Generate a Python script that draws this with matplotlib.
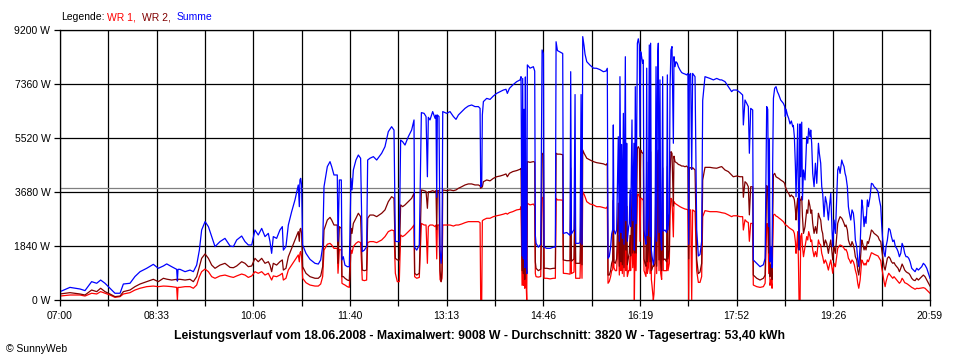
# SunnyWeb daily power curve, 18.06.2008
# WR 1, WR 2 and their sum over the day (07:00 - 20:59)

import numpy as np
import matplotlib
matplotlib.use("Agg")
import matplotlib.pyplot as plt

plt.rcParams['font.family'] = ['Liberation Sans', 'DejaVu Sans']

# time in minutes after 07:00
minutes = [
    0, 9.6, 19.3, 24.1, 30.5, 35.4, 39.2, 43.4, 48.2, 53.0,
    57.9, 61.1, 67.5, 72.3, 77.2, 83.6, 90.0, 94.8, 99.7, 102.9,
    107.7, 112.5, 113.2, 113.8, 115.7, 120.6, 125.4, 128.6, 131.8, 134.4,
    136.6, 139.9, 143.1, 146.3, 149.5, 154.3, 159.1, 164.0, 167.2, 170.4,
    175.2, 178.4, 181.6, 184.9,
    188.0, 191.2, 194.5, 197.7, 200.9, 202.5, 204.1, 205.7, 208.9, 212.1,
    214.4, 215.4, 217.9, 220.2, 223.4, 226.6, 229.8, 230.8, 231.4, 232.1,
    233.0, 234.0, 237.2, 241.1, 245.9, 249.1, 251.4, 253.3, 254.6, 257.8,
    260.4, 262.0, 264.2, 267.4, 268.1, 269.4, 271.3, 271.9, 273.2, 274.8,
    277.1, 279.0, 280.6, 281.6, 282.9, 285.4, 287.7, 289.9, 291.5, 293.5,
    295.7, 296.7, 298.9, 302.2, 305.4, 310.2, 313.4, 316.6, 319.8, 322.1,
    323.4, 325.3, 327.2, 328.5, 330.4, 332.7, 335.9, 339.1, 341.4, 342.0,
    344.0, 346.5,
    348.5, 351.1, 353.0, 354.3, 355.2, 356.8, 359.4, 361.7, 362.6, 363.3,
    363.9, 365.5, 366.5, 367.5, 368.4, 369.1, 372.9, 376.1, 379.4, 381.9,
    384.2, 387.4, 390.6, 393.8, 397.0, 400.2, 403.5, 405.1, 405.7, 406.7,
    407.3, 408.3, 411.5, 414.7, 417.9, 421.1, 424.4, 427.6, 430.1, 431.4,
    433.4, 436.6, 440.4, 443.7, 444.6, 445.6, 446.2, 446.9, 447.5, 448.2,
    448.8, 449.4, 450.1, 450.7, 453.3, 456.5, 457.8, 458.4, 459.1, 461.3,
    463.6, 464.9, 466.2, 466.8, 469.4, 472.6, 475.8, 477.7, 478.4, 479.7,
    482.2, 484.8, 485.4, 488.7, 491.9, 492.5, 493.2, 495.7, 496.7, 497.3,
    499.9, 501.5, 502.5, 503.4, 504.1, 505.4, 506.3, 508.0, 511.2, 514.4,
    517.5, 520.7, 524.0, 526.5, 527.8,
    528.5, 529.7, 531.0, 532.0, 533.0, 533.6, 534.2, 535.5, 536.8, 538.4,
    539.4, 540.0, 541.0, 541.6, 542.3, 543.3, 543.9, 545.2, 545.8, 546.5,
    547.1, 548.4, 549.0, 549.7, 550.3, 551.6, 552.3, 553.5, 553.9, 554.2,
    554.8, 555.5, 556.8, 557.7, 558.7, 559.3, 560.0, 560.9, 561.9, 562.5,
    563.2, 564.1, 565.1, 565.8, 566.4, 567.4, 568.3, 569.0, 569.6, 570.3,
    570.9, 572.2, 572.8, 573.8, 574.8, 575.4, 576.4, 577.0, 577.7, 578.6,
    579.3, 580.2, 581.2, 581.8, 583.4, 585.0, 585.7, 586.3, 587.6, 588.3,
    589.2, 590.2, 591.5, 592.1, 593.1, 594.0, 595.3, 596.3, 597.9, 599.5,
    601.1, 602.7, 604.3, 605.6, 606.3, 606.9, 608.2, 609.2, 610.1, 612.4,
    614.0, 615.6, 617.2, 618.8, 619.8, 622.0, 626.8, 630.1, 633.3, 636.5,
    638.1, 641.3, 644.5, 647.7, 649.3, 652.6, 655.8, 658.3, 659.0, 660.6,
    662.2, 663.8, 664.8, 666.1, 668.0, 668.6, 671.9, 675.1, 678.3, 680.0,
    681.5, 682.5, 683.5, 684.1, 684.7, 685.7, 686.7, 687.3, 688.0, 689.2,
    690.5, 691.8, 693.1, 695.0, 697.6, 698.9, 699.5, 700.2, 701.5, 702.7,
    704.0, 705.3, 706.6, 707.2, 708.2, 709.2, 709.8, 710.5, 711.4, 712.1,
    712.7, 713.7, 714.3, 715.3, 716.0, 717.0, 718.5, 720.1, 721.1, 722.0,
    723.3, 724.0, 724.9, 725.9, 727.2, 728.5, 729.8, 731.4, 732.3, 733.6,
    734.6, 735.5, 736.8, 738.1, 739.4, 741.0, 742.0, 743.3, 744.5, 745.2,
    746.5, 747.8, 749.0, 750.0, 751.0, 752.3, 753.9, 754.8, 756.1, 757.1,
    758.0, 759.3, 760.3, 761.3, 762.6, 763.8, 765.1, 766.1, 767.0, 768.3,
    769.3, 770.3, 771.6, 773.2, 774.1, 775.4, 776.4, 777.3, 778.6, 779.6,
    781.2, 782.5, 783.8, 785.1, 787.0, 788.9, 790.2, 791.5, 792.5, 793.4,
    794.7, 795.7, 796.6, 797.9, 799.2, 800.5, 801.8, 803.1, 804.3, 805.6,
    806.9, 808.2, 809.5, 810.8, 812.1, 813.3, 814.6, 815.9, 817.2, 818.5,
    819.8, 821.4, 823.0, 824.6, 826.2, 827.8, 829.4, 831.0, 832.6, 834.2,
    835.9, 837.5, 839.0,
]

# Summe (W)
summe = [
    284, 430, 375, 320, 625, 570, 680, 570, 400, 230,
    230, 545, 570, 800, 965, 1080, 1215, 1080, 1160, 1230,
    1135, 1045, 650, 1045, 1045, 965, 1020, 965, 1190, 1700,
    2385, 2670, 2500, 2160, 1820, 1990, 2100, 1840, 1820, 2045,
    2180, 1990, 1875, 1875,
    2385, 2215, 2440, 2160, 2270, 1990, 1590, 2160, 2100, 2385,
    2500, 1700, 1820, 2555, 3010, 3410, 3920, 3180, 4090, 4145,
    3920, 1875, 1590, 1385, 1250, 1225, 1365, 1820, 3860, 4545,
    4715, 4545, 4260, 4260, 2000, 4090, 4090, 1365, 1475, 1190,
    1135, 1135, 4145, 3750, 4430, 4770, 4940, 4830, 1650, 1700,
    1820, 4770, 4830, 4885, 4770, 5000, 5225, 5735, 5905, 5790,
    2000, 1990, 1990, 5450, 5395, 5280, 5565, 5790, 6135, 1800,
    1700, 1875,
    6385, 6360, 6250, 4200, 6225, 6135, 6420, 6190, 6305, 3500,
    6305, 6250, 1700, 1250, 1705, 6420, 6360, 6420, 6250, 6155,
    6305, 6420, 6530, 6610, 6645, 6590, 6590, 6530, 3860, 3900,
    6305, 6760, 6870, 6835, 6950, 7040, 7100, 7155, 7180, 7040,
    7210, 7325, 7440, 7500, 7610, 1500, 7550, 1400, 6500, 1100,
    7600, 2000, 900, 8010, 7900, 7950, 7800, 2200, 1930, 1800,
    1900, 8520, 8400, 1800, 1760, 1760, 1800, 1800, 8800, 8500,
    8450, 8400, 2270, 2300, 2200, 7780, 2250, 2400, 7000, 1930,
    1930, 1950, 7000, 1900, 8975, 8660, 8380, 8120, 8000, 7900,
    7895, 7850, 7780, 7800, 7895,
    1420, 1480, 1800, 2250, 2400, 5965, 2400, 2250, 2385, 5565,
    2000, 7610, 2300, 5300, 2100, 6360, 1900, 8290, 2700, 5340,
    2000, 2500, 2600, 3750, 2500, 6135, 2700, 5340, 1700, 2500,
    7270, 2600, 8750, 8900, 8690, 5565, 8460, 8290, 8065, 8180,
    2385, 2100, 1900, 7900, 2200, 2840, 8690, 2160, 8750, 1700,
    1500, 1200, 1350, 2200, 7950, 2000, 8350, 8750, 2300, 7500,
    2150, 1700, 7610, 2350, 2385, 2300, 7670, 2385, 2950, 7270,
    8520, 8635, 5340, 8290, 7950, 8120, 8065, 7950, 7840, 7750,
    7720, 7700, 7670, 7720, 1900, 7670, 7720, 4450, 7720, 7610,
    2400, 1500, 1550, 2000, 6800, 7610, 7550, 7500, 7550, 7500,
    7500, 7440, 7270, 7100, 7155, 7155, 7070, 6985, 5965, 6815,
    6700, 6590, 5000, 6530, 6475, 1365, 1250, 1135, 1200, 1420,
    6590, 6500, 2500, 5500, 1300, 1800, 1100, 4700, 6870, 7215,
    7270, 7100, 7000, 6815, 6700, 6590, 6250, 6500, 6300, 6190,
    6000, 6100, 5905, 5950, 5565, 4545, 3520, 4430, 6000, 3640,
    1705, 6000, 4200, 6060, 3410, 4430, 4090, 5565, 5340, 5850,
    5565, 5790, 5340, 4315, 3860, 4660, 3975, 5340, 4995, 4660,
    3860, 3635, 2840, 3520, 3290, 2725, 3180, 3635, 2385, 1820,
    2725, 2270, 3410, 4430, 4545, 4315, 4770, 4660, 4545, 4315,
    4200, 3860, 3180, 2955, 2725, 3070, 2955, 2610, 2045, 1820,
    1365, 1135, 1820, 3410, 3180, 2500, 2840, 2610, 3410, 3180,
    3520, 3975, 3950, 3860, 3800, 3690, 3410, 3180, 2500, 2045,
    1590, 1475, 1820, 2045, 2440, 2385, 2160, 1990, 2045, 1820,
    1760, 1650, 1475, 1590, 1930, 1820, 1590, 1475, 1475, 1420,
    1305, 1080, 1020, 965, 1080, 1020, 1080, 1135, 1250, 1190,
    1080, 905, 740,
]

# WR 2 (W)
wr2 = [
    205, 250, 205, 170, 340, 285, 400, 285, 205, 115,
    135, 285, 340, 455, 545, 625, 705, 625, 740, 710,
    680, 705, 650, 705, 705, 680, 705, 625, 795, 1135,
    1420, 1570, 1420, 1190, 1080, 1190, 1250, 1110, 1100, 1160,
    1305, 1250, 1135, 1160,
    1420, 1305, 1420, 1250, 1305, 1190, 965, 1250, 1190, 1305,
    1365, 1020, 1080, 1475, 1760, 2045, 2330, 2000, 2400, 2440,
    2270, 1135, 910, 795, 740, 740, 820, 1135, 2385, 2725,
    2815, 2725, 2555, 2555, 1250, 2500, 2440, 795, 800, 740,
    680, 660, 2440, 2270, 2610, 2785, 2955, 2840, 1020, 1000,
    1020, 2785, 2895, 2895, 2840, 2955, 3070, 3350, 3520, 3465,
    1420, 1365, 1365, 3240, 3180, 3240, 3350, 3465, 3635, 910,
    850, 910,
    3750, 3725, 3700, 3125, 3690, 3690, 3725, 3690, 3725, 2400,
    3725, 3725, 1000, 625, 1000, 3750, 3725, 3750, 3725, 3750,
    3805, 3860, 3920, 3955, 3955, 3920, 3920, 3890, 3805, 3850,
    3850, 4030, 4090, 4060, 4145, 4200, 4225, 4260, 4295, 4200,
    4315, 4375, 4410, 4455, 4485, 1000, 4450, 900, 3900, 700,
    4500, 1300, 900, 4715, 4690, 4715, 4700, 1300, 1080, 1000,
    1050, 5000, 4950, 1080, 1080, 1060, 1080, 1080, 5000, 4970,
    4970, 4950, 1365, 1340, 1340, 4500, 1320, 1400, 4000, 1250,
    1250, 1250, 3500, 1200, 5110, 5000, 4940, 4830, 4770, 4715,
    4680, 4660, 4640, 4600, 4660,
    850, 850, 1000, 1250, 1365, 3400, 1300, 1250, 1400, 3300,
    1150, 4400, 1300, 3100, 1200, 3700, 1100, 4800, 1700, 3200,
    1200, 1500, 1600, 2200, 1500, 3600, 1600, 3200, 1700, 1600,
    4300, 1600, 5170, 5225, 5150, 3500, 5110, 5050, 5000, 4980,
    1400, 1250, 1150, 4700, 1300, 1700, 5110, 1300, 5050, 1000,
    1050, 1200, 1150, 1250, 4600, 1150, 4900, 5110, 1365, 4400,
    1250, 1000, 4500, 1365, 1400, 1300, 4550, 1400, 1700, 4300,
    5055, 5000, 3200, 4900, 4715, 4690, 4660, 4620, 4600, 4565,
    4565, 4540, 4565, 4510, 1400, 4510, 4510, 4450, 4510, 4430,
    1400, 900, 950, 1250, 4090, 4520, 4520, 4500, 4490, 4530,
    4545, 4430, 4375, 4260, 4200, 4225, 4200, 4200, 3500, 4030,
    3975, 3860, 2900, 3860, 3860, 850, 740, 680, 740, 850,
    3900, 3800, 1600, 3200, 800, 1200, 700, 2800, 4260, 4315,
    4200, 4170, 4145, 4090, 4030, 3970, 3860, 3800, 3680, 3635,
    3520, 3580, 3520, 3520, 3410, 3070, 2725, 3180, 3465, 2725,
    1705, 3410, 3410, 3520, 2840, 2270, 2500, 3070, 2955, 3410,
    3180, 2955, 3070, 2610, 2270, 2500, 2270, 2955, 2840, 2725,
    2385, 2270, 1820, 2045, 1930, 1590, 1820, 2045, 1590, 1365,
    1820, 1590, 2160, 2610, 2725, 2840, 2785, 2725, 2610, 2500,
    2555, 2385, 2045, 1930, 1820, 1990, 1875, 1705, 1475, 1365,
    1020, 850, 1250, 2045, 1930, 1705, 1820, 1705, 1990, 1930,
    2160, 2385, 2340, 2270, 2220, 2160, 2045, 1990, 1700, 1475,
    1135, 1020, 1190, 1420, 1475, 1420, 1305, 1250, 1275, 1190,
    1135, 1080, 965, 1080, 1225, 1135, 1020, 965, 930, 910,
    850, 740, 680, 660, 740, 680, 740, 795, 850, 795,
    680, 570, 475,
]

# WR 1 (W)
wr1 = [
    135, 170, 170, 135, 230, 205, 285, 230, 170, 90,
    115, 205, 250, 340, 400, 455, 475, 455, 475, 470,
    455, 430, 0, 430, 430, 455, 455, 400, 510, 795,
    965, 1055, 965, 795, 740, 820, 850, 795, 770, 820,
    885, 850, 770, 820,
    965, 910, 965, 850, 910, 795, 680, 820, 795, 850,
    910, 680, 740, 1020, 1190, 1365, 1535, 1300, 1600, 1650,
    1475, 740, 590, 510, 475, 475, 545, 795, 1700, 1900,
    1930, 1875, 1760, 1760, 910, 1725, 1700, 570, 540, 510,
    455, 430, 1700, 1590, 1820, 1930, 1990, 1955, 680, 660,
    680, 1955, 1990, 1990, 1955, 2045, 2160, 2330, 2385, 2360,
    910, 625, 625, 2215, 2160, 2215, 2330, 2440, 2555, 795,
    740, 770,
    2610, 2555, 2555, 1250, 2500, 2555, 2555, 2500, 2555, 1400,
    2555, 2555, 700, 625, 740, 2555, 2555, 2555, 2520, 2555,
    2555, 2590, 2635, 2670, 2670, 2670, 2670, 2635, 0, 0,
    2700, 2730, 2785, 2785, 2840, 2870, 2895, 2925, 2955, 2925,
    2975, 3010, 3070, 3090, 3180, 500, 3100, 500, 2600, 400,
    3100, 700, 0, 3295, 3240, 3270, 3200, 900, 795, 780,
    800, 3500, 3450, 740, 740, 720, 740, 740, 3465, 3410,
    3410, 3400, 910, 900, 880, 3200, 900, 950, 3000, 740,
    740, 740, 2500, 740, 3690, 3600, 3520, 3350, 3270, 3240,
    3180, 3180, 3150, 3125, 3180,
    570, 630, 800, 1000, 1035, 2385, 1100, 1000, 1000, 2200,
    850, 3100, 1000, 2200, 900, 2600, 800, 3400, 1000, 2100,
    800, 1000, 1000, 1500, 1000, 2500, 1100, 2100, 0, 900,
    2950, 1000, 3580, 3610, 3500, 2000, 3465, 3465, 3420, 3410,
    1000, 900, 800, 3200, 910, 1100, 3520, 900, 3465, 700,
    500, 0, 200, 1000, 3200, 900, 3400, 3520, 1000, 3000,
    910, 700, 3050, 1000, 1000, 1000, 3050, 1000, 1250, 2900,
    3465, 3410, 2150, 3350, 3295, 3270, 3240, 3220, 3180, 3150,
    3125, 3100, 3090, 3070, 0, 3070, 3070, 0, 3070, 3010,
    1000, 600, 600, 800, 2840, 3045, 3010, 3010, 3010, 2990,
    2975, 2955, 2900, 2840, 2870, 2870, 2840, 2840, 2385, 2735,
    2670, 2640, 2000, 2610, 2610, 510, 455, 430, 455, 570,
    2600, 2600, 900, 2000, 500, 700, 400, 1800, 2895, 2920,
    2860, 2840, 2800, 2750, 2670, 2600, 2555, 2550, 2520, 2475,
    2440, 2410, 2380, 2360, 2270, 1990, 1590, 1820, 2330, 1365,
    0, 0, 2170, 2270, 1820, 1475, 1820, 2160, 2045, 2330,
    2160, 1990, 2045, 1705, 1475, 1650, 1475, 2045, 1930, 1875,
    1590, 1475, 1250, 1365, 1250, 1020, 1190, 1365, 1080, 910,
    1250, 1135, 1475, 1760, 1820, 1875, 1850, 1820, 1760, 1705,
    1725, 1610, 1420, 1365, 1250, 1365, 1305, 1190, 1020, 850,
    570, 400, 680, 1365, 1305, 1190, 1250, 1190, 1365, 1305,
    1475, 1610, 1590, 1560, 1530, 1500, 1420, 1340, 1080, 910,
    625, 455, 625, 795, 910, 850, 795, 740, 795, 740,
    680, 625, 570, 625, 740, 680, 590, 570, 545, 510,
    475, 430, 400, 365, 400, 390, 400, 410, 420, 400,
    340, 285, 230,
]

y_ticks = [0, 1840, 3680, 5520, 7360, 9200]
time_labels = ['07:00', '08:33', '10:06', '11:40', '13:13',
               '14:46', '16:19', '17:52', '19:26', '20:59']
average = 3820
t_end = 839

fig = plt.figure(figsize=(9.6, 3.6), dpi=100)
ax = fig.add_axes([60/960, 60/360, 870/960, 270/360])

# grid every half label step
xt = np.linspace(0, t_end, 2 * len(time_labels) - 1)
xl = [time_labels[i // 2] if i % 2 == 0 else '' for i in range(len(xt))]
ax.set_xticks(xt)
ax.set_xticklabels(xl)
ax.set_yticks(y_ticks)
ax.set_yticklabels([f'{v} W' for v in y_ticks])
ax.grid(True, color='black', lw=0.9)
ax.set_axisbelow(True)
ax.axhline(average, color='#808080', lw=0.9, zorder=1.5)

# blue drawn last, it sits on top in the original
ax.plot(minutes, wr1, color='#FF0000', lw=0.9)
ax.plot(minutes, wr2, color='#800000', lw=0.9)
ax.plot(minutes, summe, color='#0000FF', lw=0.9)

ax.set_xlim(0, t_end)
ax.set_ylim(0, 9200)
for s in ax.spines.values():
    s.set_color('black')
    s.set_linewidth(0.9)
ax.tick_params(direction='out', length=4, width=0.9, labelsize=7.5, colors='black')
ax.tick_params(axis='x', pad=4)
ax.tick_params(axis='y', pad=3)

# legend line on top
fs = 7.5
fig.text(61/960, 1 - 17/360, 'Legende:', fontsize=fs, va='center')
fig.text(107/960, 1 - 17/360, 'WR 1,', fontsize=fs, va='center', color='#FF0000')
fig.text(142/960, 1 - 17/360, 'WR 2,', fontsize=fs, va='center', color='#800000')
fig.text(177/960, 1 - 17/360, 'Summe', fontsize=fs, va='center', color='#0000FF')

fig.text(480/960, 1 - 336/360,
         'Leistungsverlauf vom 18.06.2008 - Maximalwert: 9008 W - '
         'Durchschnitt: 3820 W - Tagesertrag: 53,40 kWh',
         fontsize=8.8, fontweight='bold', ha='center', va='center')
fig.text(6/960, 1 - 349/360, '© SunnyWeb', fontsize=7.5, va='center')

fig.savefig('out.png', dpi=100)
